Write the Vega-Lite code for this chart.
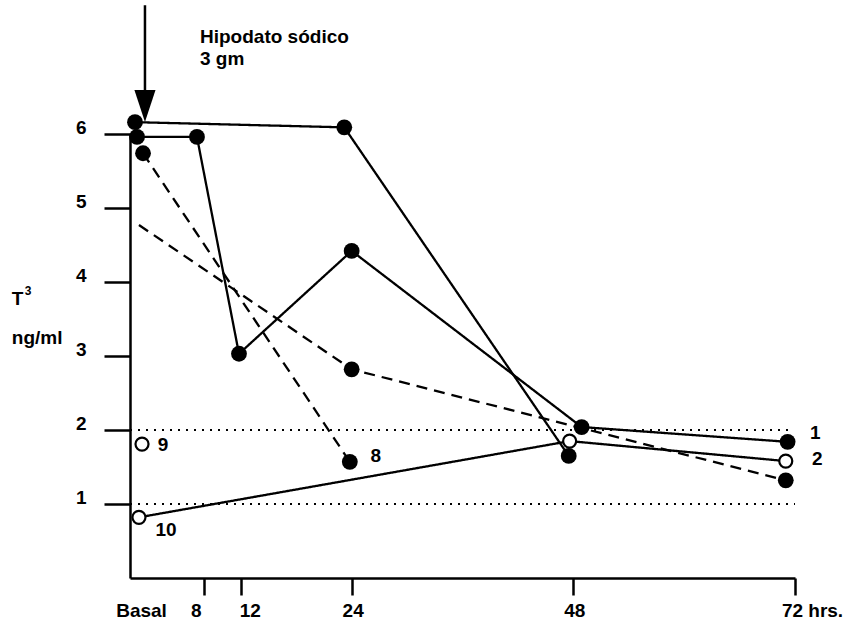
{
  "$schema": "https://vega.github.io/schema/vega-lite/v6.json",
  "width": 665,
  "height": 444,
  "autosize": {"type": "none"},
  "padding": {"left": 130, "top": 134, "right": 49, "bottom": 48},
  "background": "white",
  "config": {"view": {"stroke": null}, "font": "Liberation Sans"},
  "datasets": {
    "lines": [
      {"patient": "A", "hour": 0.54, "t3": 6.16, "trazo": "continua"},
      {"patient": "A", "hour": 23.2, "t3": 6.09, "trazo": "continua"},
      {"patient": "A", "hour": 47.5, "t3": 1.65, "trazo": "continua"},
      {"patient": "1", "hour": 0.76, "t3": 5.96, "trazo": "continua"},
      {"patient": "1", "hour": 7.25, "t3": 5.96, "trazo": "continua"},
      {"patient": "1", "hour": 11.8, "t3": 3.03, "trazo": "continua"},
      {"patient": "1", "hour": 24.0, "t3": 4.42, "trazo": "continua"},
      {"patient": "1", "hour": 48.9, "t3": 2.04, "trazo": "continua"},
      {"patient": "1", "hour": 71.2, "t3": 1.84, "trazo": "continua"},
      {"patient": "B", "hour": 0.97, "t3": 4.77, "trazo": "discontinua"},
      {"patient": "B", "hour": 24.0, "t3": 2.82, "trazo": "discontinua"},
      {"patient": "B", "hour": 71.0, "t3": 1.32, "trazo": "discontinua"},
      {"patient": "8", "hour": 1.41, "t3": 5.74, "trazo": "discontinua"},
      {"patient": "8", "hour": 23.8, "t3": 1.57, "trazo": "discontinua"},
      {"patient": "10", "hour": 0.97, "t3": 0.82, "trazo": "continua"},
      {"patient": "10", "hour": 47.6, "t3": 1.85, "trazo": "continua"},
      {"patient": "10", "hour": 71.0, "t3": 1.58, "trazo": "continua"}
    ],
    "points": [
      {"patient": "A", "hour": 0.54, "t3": 6.16, "symbol": "lleno"},
      {"patient": "A", "hour": 23.2, "t3": 6.09, "symbol": "lleno"},
      {"patient": "A", "hour": 47.5, "t3": 1.65, "symbol": "lleno"},
      {"patient": "1", "hour": 0.76, "t3": 5.96, "symbol": "lleno"},
      {"patient": "1", "hour": 7.25, "t3": 5.96, "symbol": "lleno"},
      {"patient": "1", "hour": 11.8, "t3": 3.03, "symbol": "lleno"},
      {"patient": "1", "hour": 24.0, "t3": 4.42, "symbol": "lleno"},
      {"patient": "1", "hour": 48.9, "t3": 2.04, "symbol": "lleno"},
      {"patient": "1", "hour": 71.2, "t3": 1.84, "symbol": "lleno"},
      {"patient": "B", "hour": 24.0, "t3": 2.82, "symbol": "lleno"},
      {"patient": "B", "hour": 71.0, "t3": 1.32, "symbol": "lleno"},
      {"patient": "8", "hour": 1.41, "t3": 5.74, "symbol": "lleno"},
      {"patient": "8", "hour": 23.8, "t3": 1.57, "symbol": "lleno"},
      {"patient": "10", "hour": 0.97, "t3": 0.82, "symbol": "vacio"},
      {"patient": "10", "hour": 47.6, "t3": 1.85, "symbol": "vacio"},
      {"patient": "10", "hour": 71.0, "t3": 1.58, "symbol": "vacio"},
      {"patient": "9", "hour": 1.3, "t3": 1.81, "symbol": "vacio"}
    ],
    "labels": [
      {"label": "1", "hour": 74.2, "t3": 1.96},
      {"label": "2", "hour": 74.4, "t3": 1.61},
      {"label": "9", "hour": 3.57, "t3": 1.80},
      {"label": "8", "hour": 26.6, "t3": 1.65},
      {"label": "10", "hour": 3.9, "t3": 0.65}
    ],
    "refs": [
      {"t3": 2, "hour": 0, "hour_end": 71.5},
      {"t3": 1, "hour": 0, "hour_end": 72}
    ],
    "notes": [
      {"text": "Hipodato sódico", "hour": 7.58, "t3": 7.23},
      {"text": "3 gm", "hour": 7.58, "t3": 6.93},
      {"text": "ng/ml", "hour": -12.8, "t3": 3.16},
      {"text": "T", "hour": -12.8, "t3": 3.69}
    ]
  },
  "encoding": {
    "x": {
      "field": "hour",
      "type": "quantitative",
      "scale": {"domain": [0, 72], "nice": false, "zero": false},
      "axis": {
        "title": null,
        "values": [0, 8, 12, 24, 48, 72],
        "grid": false,
        "labelFlush": false,
        "labelOverlap": false,
        "domainColor": "black",
        "domainWidth": 2.5,
        "tickColor": {"condition": {"test": "datum.value == 0", "value": "transparent"}, "value": "black"},
        "tickWidth": 2.5,
        "tickSize": 17,
        "labelPadding": 6,
        "labelFont": "Liberation Sans",
        "labelFontSize": 19,
        "labelFontWeight": "bold",
        "labelColor": "black",
        "labelOffset": {"condition": [{"test": "datum.value == 0", "value": 11}, {"test": "datum.value == 72", "value": 17}, {"test": "datum.value == 8", "value": -8}, {"test": "datum.value == 12", "value": 9}], "value": 1},
        "labelExpr": "datum.value == 0 ? 'Basal' : datum.value == 72 ? '72 hrs.' : datum.label"
      }
    },
    "y": {
      "field": "t3",
      "type": "quantitative",
      "scale": {"domain": [0, 6], "nice": false},
      "axis": {
        "title": null,
        "values": [1, 2, 3, 4, 5, 6],
        "grid": false,
        "domainColor": "black",
        "domainWidth": 2.5,
        "tickColor": "black",
        "tickWidth": 2.5,
        "tickSize": 26,
        "labelPadding": 18,
        "labelOffset": -7,
        "labelFont": "Liberation Sans",
        "labelFontSize": 19,
        "labelFontWeight": "bold",
        "labelColor": "black"
      }
    }
  },
  "layer": [
    {
      "data": {"name": "refs"},
      "mark": {"type": "rule", "color": "black", "strokeWidth": 2, "strokeDash": [2, 6], "clip": false},
      "encoding": {"x2": {"field": "hour_end"}}
    },
    {
      "data": {"name": "lines"},
      "mark": {"type": "line", "color": "black", "strokeWidth": 2.3, "clip": false},
      "encoding": {
        "detail": {"field": "patient"},
        "order": {"field": "hour", "type": "quantitative"},
        "strokeDash": {"field": "trazo", "type": "nominal", "scale": {"domain": ["continua", "discontinua"], "range": [[1, 0], [11, 7]]}, "legend": null}
      }
    },
    {
      "data": {"name": "points"},
      "transform": [{"filter": "datum.symbol == 'lleno'"}],
      "mark": {"type": "point", "shape": "circle", "filled": true, "color": "black", "size": 250, "opacity": 1, "clip": false},
      "encoding": {}
    },
    {
      "data": {"name": "points"},
      "transform": [{"filter": "datum.symbol == 'vacio'"}],
      "mark": {"type": "point", "shape": "circle", "fill": "white", "stroke": "black", "strokeWidth": 2.2, "size": 170, "opacity": 1, "fillOpacity": 1, "clip": false},
      "encoding": {}
    },
    {
      "data": {"name": "labels"},
      "mark": {"type": "text", "font": "Liberation Sans", "fontSize": 19, "fontWeight": "bold", "color": "black", "align": "center", "baseline": "middle", "clip": false},
      "encoding": {"text": {"field": "label"}}
    },
    {
      "data": {"values": [{"hour": 1.62, "t3": 7.74, "t3_end": 6.5}]},
      "mark": {"type": "rule", "color": "black", "strokeWidth": 2.5, "clip": false},
      "encoding": {"y2": {"field": "t3_end"}}
    },
    {
      "data": {"values": [{"hour": 1.62, "t3": 6.38}]},
      "mark": {"type": "point", "shape": "M-0.66,-1L0.66,-1L0,1Z", "filled": true, "color": "black", "size": 1024, "opacity": 1, "clip": false},
      "encoding": {}
    },
    {
      "data": {"name": "notes"},
      "mark": {"type": "text", "font": "Liberation Sans", "fontSize": 19, "fontWeight": "bold", "color": "black", "align": "left", "baseline": "alphabetic", "clip": false},
      "encoding": {"text": {"field": "text"}}
    },
    {
      "data": {"values": [{"text": "3", "hour": -11.4, "t3": 3.83}]},
      "mark": {"type": "text", "font": "Liberation Sans", "fontSize": 12, "fontWeight": "bold", "color": "black", "align": "left", "baseline": "alphabetic", "clip": false},
      "encoding": {"text": {"field": "text"}}
    }
  ]
}
